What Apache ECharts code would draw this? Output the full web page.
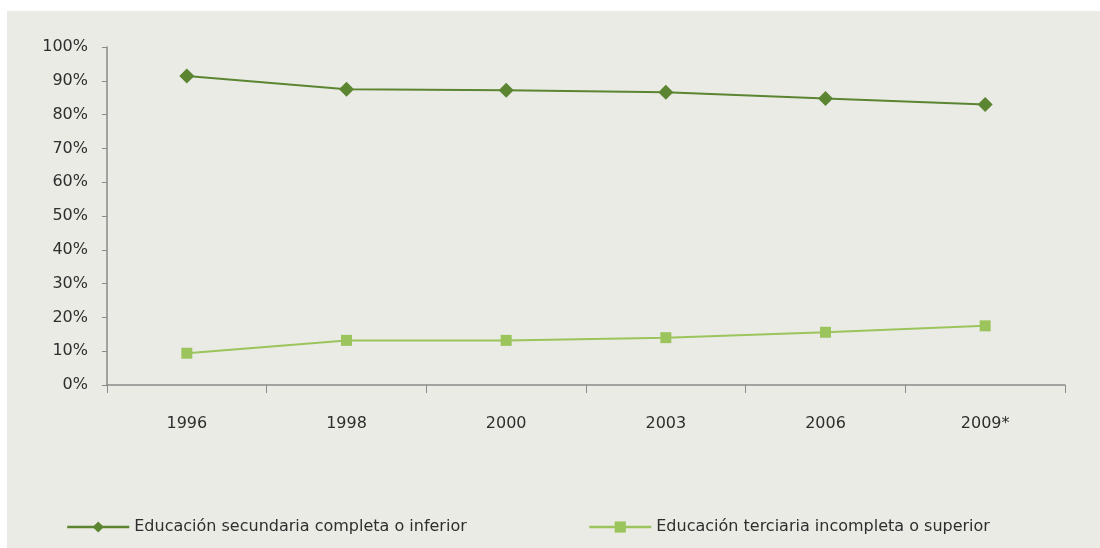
<!DOCTYPE html>
<html>
<head>
<meta charset="utf-8">
<script src="https://cdn.jsdelivr.net/npm/echarts@6/dist/echarts.min.js"></script>
<style>
  html, body { margin: 0; padding: 0; background: #ffffff; }
  #chart { width: 1100px; height: 548px; }
</style>
</head>
<body>
<div id="chart"></div>
<script>
// Survey years on the horizontal axis
const years = ['1996', '1998', '2000', '2003', '2006', '2009*'];

// Share of population by education level (%)
const secundariaOInferior = [91.4, 87.5, 87.2, 86.6, 84.8, 83.0];
const terciariaOSuperior = [9.4, 13.2, 13.2, 14.0, 15.6, 17.5];

const seriesNames = [
  'Educación secundaria completa o inferior',
  'Educación terciaria incompleta o superior'
];

const chart = echarts.init(document.getElementById('chart'));

const axisColor = '#8a8a8a';
const labelColor = '#2e2e2e';
const fontFamily = '"DejaVu Sans", "Liberation Sans", sans-serif';
const fontSize = 16;

// One legend block per series so each entry sits at its own x position
function legendAt(left, name) {
  return {
    bottom: 8,
    left: left,
    itemWidth: 62,
    itemHeight: 14,
    itemGap: 10,
    lineStyle: { width: 2.5 },
    textStyle: { color: labelColor, fontSize: fontSize, fontFamily: fontFamily },
    data: [name]
  };
}

chart.setOption({
  animation: false,
  graphic: [{
    type: 'rect',
    left: 7, top: 11,
    shape: { width: 1093, height: 537 },
    style: { fill: '#ebebe6' },
    z: -10
  }],
  grid: { left: 107, right: 35, top: 47, bottom: 163 },
  legend: [legendAt(61, seriesNames[0]), legendAt(583, seriesNames[1])],
  xAxis: {
    type: 'category',
    data: years,
    boundaryGap: true,
    axisLine: { lineStyle: { color: axisColor, width: 1.5 } },
    axisTick: { show: true, interval: 0, length: 8, lineStyle: { color: axisColor } },
    axisLabel: { color: labelColor, fontSize: fontSize, margin: 31, fontFamily: fontFamily },
    splitLine: { show: false }
  },
  yAxis: {
    type: 'value',
    min: 0, max: 100, interval: 10,
    axisLine: { show: true, lineStyle: { color: axisColor, width: 1.5 } },
    axisTick: { show: true, length: 5, lineStyle: { color: axisColor } },
    axisLabel: { color: labelColor, fontSize: fontSize, margin: 19, formatter: '{value}%', fontFamily: fontFamily },
    splitLine: { show: false }
  },
  series: [
    {
      name: seriesNames[0],
      type: 'line',
      data: secundariaOInferior,
      symbol: 'diamond',
      symbolSize: 15,
      itemStyle: { color: '#5b8531' },
      lineStyle: { color: '#5b8531', width: 2 }
    },
    {
      name: seriesNames[1],
      type: 'line',
      data: terciariaOSuperior,
      symbol: 'rect',
      symbolSize: 11,
      itemStyle: { color: '#9cc45c' },
      lineStyle: { color: '#9cc45c', width: 2 }
    }
  ]
});
</script>
</body>
</html>
